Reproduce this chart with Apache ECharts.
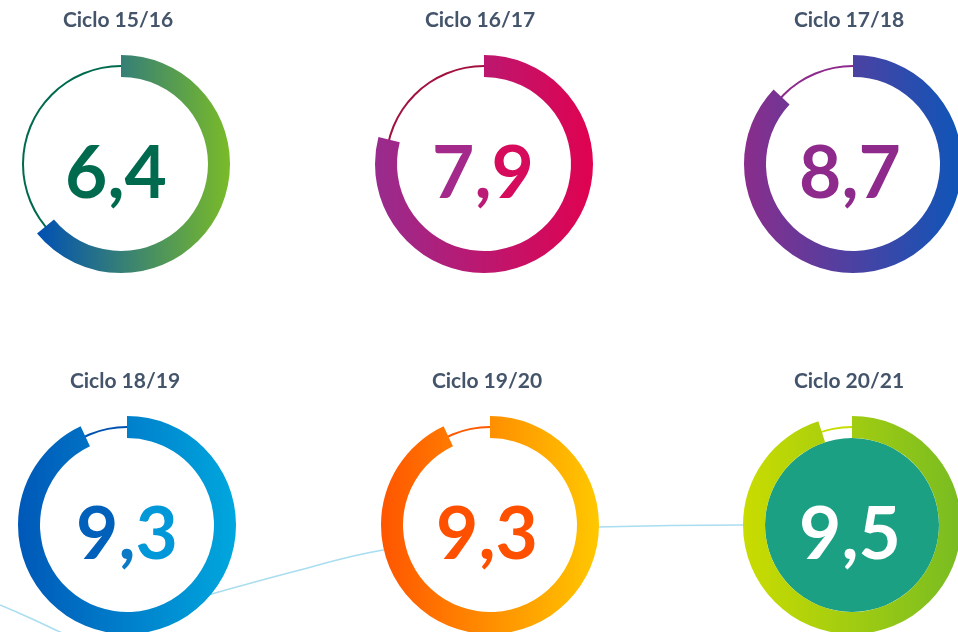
<!DOCTYPE html>
<html>
<head>
<meta charset="utf-8">
<script src="https://cdn.jsdelivr.net/npm/echarts@6/dist/echarts.min.js"></script>
<style>
  html, body { margin: 0; padding: 0; background: #fff; }
  #chart { width: 958px; height: 632px; }
</style>
</head>
<body>
<div id="chart"></div>
<script>
// data
const cycles = ['Ciclo 15/16', 'Ciclo 16/17', 'Ciclo 17/18', 'Ciclo 18/19', 'Ciclo 19/20', 'Ciclo 20/21'];
const scores = [6.4, 7.9, 8.7, 9.3, 9.3, 9.5];
const scoreMax = 10;

// light blue swooshes behind the bottom row
const swooshAX = [0, 30, 60, 90];
const swooshAY = [605, 618, 632, 646];
const swooshBX = [140, 212, 300, 383, 490, 598, 742, 860, 958];
const swooshBY = [615, 594, 570, 550, 536, 527, 525, 527, 531];

// layout + look of each ring
const rings = [
  { center: [121, 164], title: [118, 10],  dx: -5, from: '#0050b4', to: '#7abb28', track: '#006a4e', fill: '#fff',    text: ['#006a4e', '#006a4e', '#006a4e'] },
  { center: [484, 164], title: [480, 10],  dx: -1, from: '#982c8e', to: '#e00250', track: '#a3123f', fill: '#fff',    text: ['#a32a8b', '#bb1b76', '#d60b5c'] },
  { center: [853, 164], title: [849, 10],  dx: -3, from: '#8a2d8c', to: '#0d56b8', track: '#8e2a8c', fill: '#fff',    text: ['#8e2a8c', '#8e2a8c', '#8e2a8c'] },
  { center: [127, 525], title: [125, 371], dx: 0,  from: '#0058b8', to: '#00a7de', track: '#0052b0', fill: '#fff',    text: ['#0060ba', '#0a7ac6', '#0098d8'] },
  { center: [490, 525], title: [487, 371], dx: -3, from: '#ff5500', to: '#ffc800', track: '#ff5a00', fill: '#fff',    text: ['#ff5000', '#ff5000', '#ff5000'] },
  { center: [852, 525], title: [849, 371], dx: -2, from: '#cadc00', to: '#78bc22', track: '#c8dc00', fill: '#1ba084', text: ['#ffffff', '#ffffff', '#ffffff'] }
];

const chart = echarts.init(document.getElementById('chart'));

const series = [
  {
    type: 'line', smooth: true, symbol: 'none', silent: true, z: 1,
    lineStyle: { color: '#a9ddf0', width: 1.5 },
    data: swooshAX.map((x, i) => [x, swooshAY[i]])
  },
  {
    type: 'line', smooth: true, symbol: 'none', silent: true, z: 1,
    lineStyle: { color: '#a9ddf0', width: 1.5 },
    data: swooshBX.map((x, i) => [x, swooshBY[i]])
  }
];

rings.forEach((r, i) => {
  // inner disc
  series.push({
    type: 'pie', center: r.center, radius: [0, 87], silent: true, z: 2,
    label: { show: false }, labelLine: { show: false },
    itemStyle: { color: r.fill },
    data: [{ value: 1 }]
  });
  // thin track
  series.push({
    type: 'gauge', center: r.center, radius: 99, z: 3,
    startAngle: 90, endAngle: -270, min: 0, max: scoreMax,
    axisLine: { show: true, lineStyle: { width: 2, color: [[1, r.track]] } },
    pointer: { show: false }, axisTick: { show: false }, splitLine: { show: false },
    axisLabel: { show: false }, title: { show: false }, detail: { show: false },
    data: [{ value: scores[i] }]
  });
  // thick progress arc + value
  series.push({
    type: 'gauge', center: r.center, radius: 109, z: 4,
    startAngle: 90, endAngle: -270, min: 0, max: scoreMax,
    axisLine: { show: false },
    progress: {
      show: true, width: 22,
      itemStyle: {
        color: new echarts.graphic.LinearGradient(0, 0, 1, 0, [
          { offset: 0, color: r.from },
          { offset: 1, color: r.to }
        ])
      }
    },
    pointer: { show: false }, axisTick: { show: false }, splitLine: { show: false },
    axisLabel: { show: false }, title: { show: false },
    detail: {
      show: true,
      offsetCenter: [r.dx, 10],
      valueAnimation: false,
      formatter: function (v) {
        const p = v.toFixed(1).split('.');
        return '{a|' + p[0] + '}{b|,}{c|' + p[1] + '}';
      },
      rich: {
        a: { color: r.text[0], fontSize: 73, fontWeight: 'bold', fontFamily: 'Lato' },
        b: { color: r.text[1], fontSize: 73, fontWeight: 'bold', fontFamily: 'Lato' },
        c: { color: r.text[2], fontSize: 73, fontWeight: 'bold', fontFamily: 'Lato' }
      }
    },
    data: [{ value: scores[i] }]
  });
});

chart.setOption({
  animation: false,
  backgroundColor: '#fff',
  title: cycles.map((t, i) => ({
    text: t,
    left: rings[i].title[0],
    top: rings[i].title[1],
    textAlign: 'center',
    padding: 0,
    textStyle: { color: '#44546a', fontSize: 21, fontWeight: 'bold', fontFamily: 'Lato' }
  })),
  grid: { left: 0, right: 0, top: 0, bottom: 0 },
  xAxis: { type: 'value', min: 0, max: 958, show: false },
  yAxis: { type: 'value', min: 0, max: 632, inverse: true, show: false },
  series: series
});
</script>
</body>
</html>
